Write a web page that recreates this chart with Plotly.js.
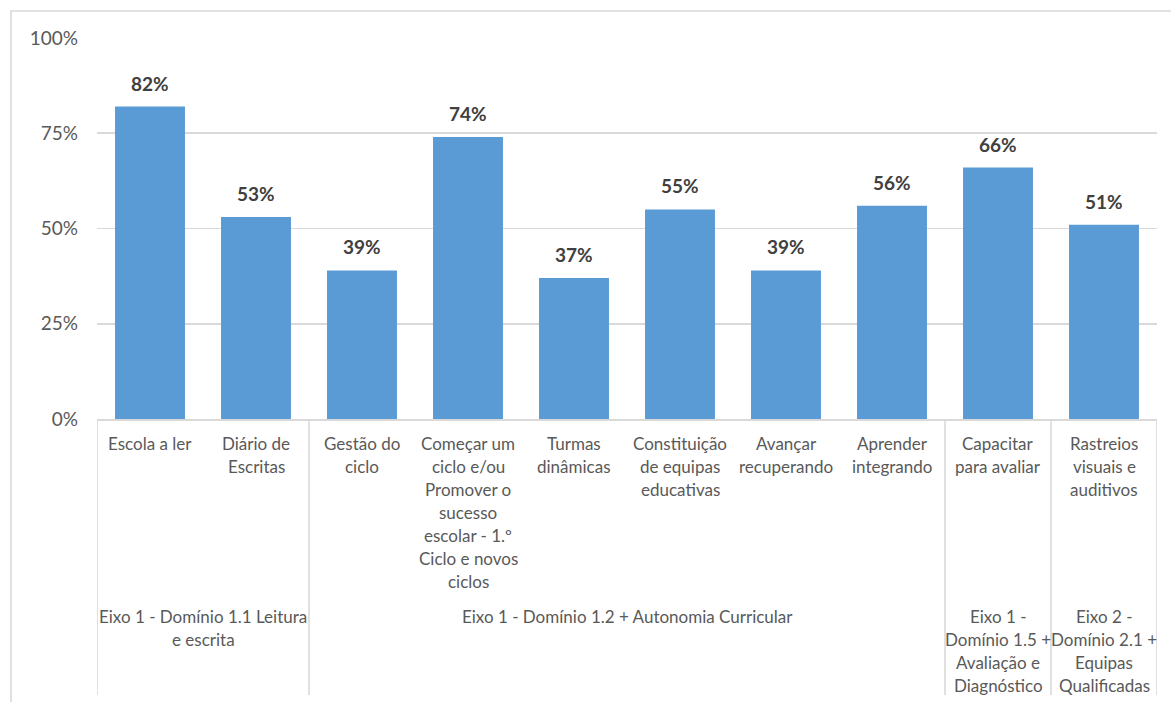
<!DOCTYPE html>
<html>
<head>
<meta charset="utf-8">
<script src="https://cdn.plot.ly/plotly-3.0.1.min.js"></script>
<style>html,body{margin:0;padding:0;background:#fff}#chart{width:1171px;height:702px}</style>
</head>
<body>
<div id="chart"></div>
<script>
const categories = [
  "Escola a ler",
  "Diário de<br>Escritas",
  "Gestão do<br>ciclo",
  "Começar um<br>ciclo e/ou<br>Promover o<br>sucesso<br>escolar - 1.º<br>Ciclo e novos<br>ciclos",
  "Turmas<br>dinâmicas",
  "Constituição<br>de equipas<br>educativas",
  "Avançar<br>recuperando",
  "Aprender<br>integrando",
  "Capacitar<br>para avaliar",
  "Rastreios<br>visuais e<br>auditivos"
];
const values = [0.82, 0.53, 0.39, 0.74, 0.37, 0.55, 0.39, 0.56, 0.66, 0.51];
const groups = [
  "Eixo 1 - Domínio 1.1 Leitura<br>e escrita",
  "Eixo 1 - Domínio 1.2 + Autonomia Curricular",
  "Eixo 1 -<br>Domínio 1.5 +<br>Avaliação e<br>Diagnóstico",
  "Eixo 2 -<br>Domínio 2.1 +<br>Equipas<br>Qualificadas"
];
const groupSizes = [2, 6, 1, 1];
const yTicks = [0, 0.25, 0.5, 0.75, 1];

const FONT = "Lato, 'Open Sans', sans-serif";
const GRID = "#d9d9d9";
const TXT = "#595959";
const plotH = 702 - 38 - 283;
const LINE = 23;

const xs = categories.map((_, i) => i);
const annotations = [];

// data labels
values.forEach((v, i) => {
  annotations.push({
    x: i, y: v, xref: 'x', yref: 'y',
    text: Math.round(v * 100) + '%',
    showarrow: false, yanchor: 'bottom', yshift: 10,
    font: {family: FONT, size: 19, color: '#404040', weight: 'bold'}
  });
});

// category labels (one annotation per line)
categories.forEach((c, i) => {
  c.split('<br>').forEach((line, k) => {
    annotations.push({
      x: i, y: 0, xref: 'x', yref: 'paper',
      text: line, showarrow: false, yanchor: 'middle', xanchor: 'center',
      yshift: -(24 + LINE * k),
      font: {family: FONT, size: 17, color: TXT}
    });
  });
});

// group labels and separators
const shapes = [];
let start = 0;
const sepBottom = -(695 - 419) / plotH;
shapes.push({type: 'line', xref: 'x', yref: 'paper', x0: -0.5, x1: -0.5, y0: 0, y1: sepBottom, line: {color: GRID, width: 1.6}});
groups.forEach((g, gi) => {
  const end = start + groupSizes[gi];
  const center = (start + end - 1) / 2;
  g.split('<br>').forEach((line, k) => {
    annotations.push({
      x: center, y: 0, xref: 'x', yref: 'paper',
      text: line, showarrow: false, yanchor: 'middle', xanchor: 'center',
      yshift: -(197 + LINE * k),
      font: {family: FONT, size: 17, color: TXT}
    });
  });
  shapes.push({type: 'line', xref: 'x', yref: 'paper', x0: end - 0.5, x1: end - 0.5, y0: 0, y1: sepBottom, line: {color: GRID, width: 1.6}});
  start = end;
});

// outer chart frame
const plotW = 1171 - 97 - 14;
shapes.push({
  type: 'rect', xref: 'paper', yref: 'paper', layer: 'below',
  x0: (11 - 97) / plotW, x1: (1180 - 97) / plotW,
  y0: -(720 - 419) / plotH, y1: (419 - 11) / plotH,
  line: {color: GRID, width: 1.6}, fillcolor: 'rgba(0,0,0,0)'
});

const trace = {
  type: 'bar', x: xs, y: values, width: 0.66,
  marker: {color: '#5b9bd5'}, hoverinfo: 'skip'
};

const layout = {
  width: 1171, height: 702,
  margin: {l: 97, r: 14, t: 38, b: 283},
  paper_bgcolor: '#fff', plot_bgcolor: '#fff',
  showlegend: false,
  xaxis: {range: [-0.5, 9.5], showticklabels: false, ticks: '', showgrid: false, zeroline: false,
          showline: true, linecolor: GRID, linewidth: 1.6, fixedrange: true},
  yaxis: {range: [0, 1], tickvals: yTicks, tickformat: '.0%', showgrid: true, gridcolor: GRID, gridwidth: 1.6,
          zeroline: false, showline: false, ticks: '', ticklabelstandoff: 18,
          tickfont: {family: FONT, size: 19, color: TXT}, fixedrange: true},
  annotations: annotations,
  shapes: shapes
};

Plotly.newPlot('chart', [trace], layout, {displayModeBar: false, staticPlot: true});
</script>
</body>
</html>
